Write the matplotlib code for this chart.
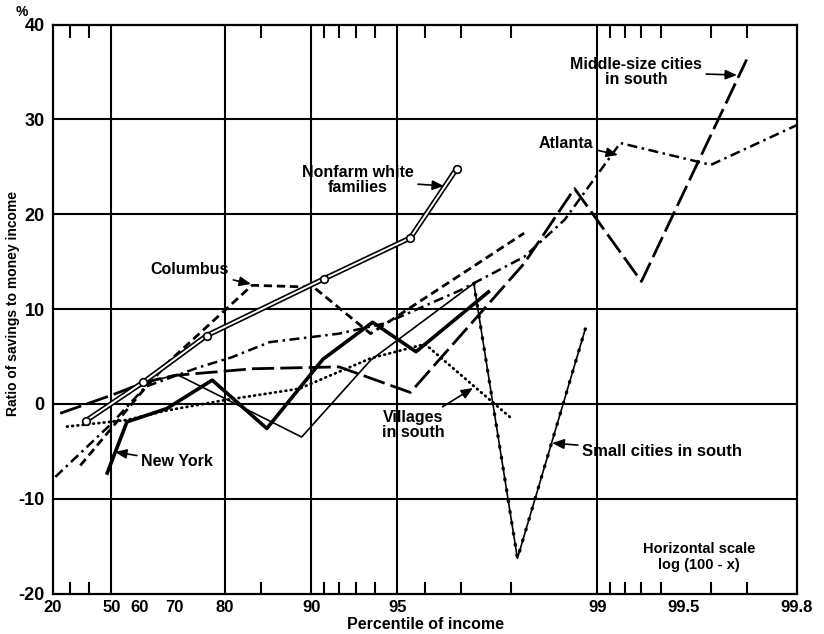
import numpy as np
import matplotlib
matplotlib.use("Agg")
import matplotlib.pyplot as plt

plt.rcParams['font.family'] = ['Liberation Sans', 'DejaVu Sans']

# ---------------- data (percentile of income, savings ratio %) ----------------
nonfarm_x = [38.5, 61.4, 76.8, 91.0, 95.5, 96.9]
nonfarm_y = [-1.8, 2.3, 7.2, 13.2, 17.5, 24.8]

columbus_x = [35.8, 61.0, 68.9, 83.9, 90.2, 93.8, 98.2]
columbus_y = [-6.5, 1.3, 4.6, 12.5, 12.3, 7.4, 18.0]

newyork_x = [48.3, 55.9, 68.0, 77.8, 85.7, 90.9, 93.9, 95.7, 97.6]
newyork_y = [-7.3, -1.9, -0.5, 2.5, -2.6, 4.7, 8.6, 5.5, 11.8]

atlanta_x = [21.5, 50.0, 62.0, 75.0, 81.0, 86.0, 92.0, 94.5, 97.0, 98.2, 98.7, 99.17, 99.6, 99.8]
atlanta_y = [-7.7, -2.1, 1.8, 3.8, 4.9, 6.5, 7.4, 8.5, 12.0, 15.5, 19.4, 27.5, 25.2, 29.4]

middle_x = [24.5, 50.0, 62.0, 70.0, 84.0, 92.0, 95.5, 98.2, 98.8, 99.3, 99.7]
middle_y = [-1.0, 0.9, 2.3, 3.0, 3.7, 3.9, 1.2, 14.8, 22.7, 12.9, 36.3]

small_x = [61.0, 70.5, 89.2, 93.8, 97.3, 98.1, 98.9]
small_y = [2.1, 3.1, -3.5, 4.6, 12.7, -16.3, 7.9]

villages_x = [28.5, 56.0, 68.0, 80.0, 89.0, 93.8, 96.0, 98.0]
villages_y = [-2.4, -1.7, -0.7, 0.4, 1.6, 4.8, 6.3, -1.5]

x_tick_labels = [20, 50, 60, 70, 80, 90, 95, 99, 99.5, 99.8]
x_grid = [50, 80, 90, 95, 99]
x_minor = [30, 40, 60, 70, 85, 91, 92, 93, 94, 96, 97, 98,
           99.1, 99.2, 99.3, 99.4, 99.5, 99.6, 99.7]
y_ticks = [-20, -10, 0, 10, 20, 30, 40]

# ---------------- scale: log(100 - x) ----------------
def fwd(x):
    x = np.asarray(x, dtype=float)
    return -np.log10(np.clip(100.0 - x, 1e-6, None))

def inv(u):
    u = np.asarray(u, dtype=float)
    return 100.0 - 10.0 ** (-u)

W, H = 824, 634
fig = plt.figure(figsize=(W / 100, H / 100), dpi=100)
ax = fig.add_axes([53 / W, 1 - 593.5 / H, (797 - 53) / W, (593.5 - 24.5) / H])
ax.set_xscale('function', functions=(fwd, inv))
ax.set_xlim(20, 99.8)
ax.set_ylim(-20, 40)

# grid
for gx in x_grid:
    ax.axvline(gx, color='black', lw=1.5, zorder=1)
for gy in y_ticks[1:-1]:
    ax.axhline(gy, color='black', lw=1.5, zorder=1)

# ---------------- series ----------------
# Nonfarm white families: double line with open circles
ax.plot(nonfarm_x, nonfarm_y, color='black', lw=3.8, zorder=5, solid_capstyle='butt')
ax.plot(nonfarm_x, nonfarm_y, color='white', lw=1.4, zorder=6, solid_capstyle='butt')
ax.plot(nonfarm_x, nonfarm_y, ls='none', marker='o', ms=5.5, mfc='white',
        mec='black', mew=1.2, zorder=7)

ax.plot(columbus_x, columbus_y, color='black', lw=2.0, ls=(0, (3, 1.7)), zorder=4)
ax.plot(newyork_x, newyork_y, color='black', lw=2.6, zorder=4)
ax.plot(atlanta_x, atlanta_y, color='black', lw=1.8, ls=(0, (4, 1.8, 1, 1.8)), zorder=4)
ax.plot(middle_x, middle_y, color='black', lw=2.0, ls=(0, (8, 2.2)), zorder=4)
ax.plot(small_x, small_y, color='black', lw=1.2, zorder=4)
ax.plot(small_x[4:], small_y[4:], color='black', lw=2.4, ls=(0, (0.3, 3)),
        dash_capstyle='round', zorder=4)
ax.plot(villages_x, villages_y, color='black', lw=2.0, ls=(0, (0.3, 1.6)),
        dash_capstyle='round', zorder=4)

# ---------------- ticks ----------------
ax.set_xticks(x_tick_labels)
ax.set_xticklabels([str(v) for v in x_tick_labels], fontsize=12, fontweight='bold')
ax.set_xticks(x_minor, minor=True)
ax.tick_params(axis='x', which='major', length=0, pad=5)
ax.tick_params(axis='x', which='minor', direction='in', length=9, width=1.5,
               top=True, bottom=True)
ax.set_yticks(y_ticks)
ax.set_yticklabels([str(v) for v in y_ticks], fontsize=13, fontweight='bold')
ax.tick_params(axis='y', which='major', length=0, pad=6)
for s in ax.spines.values():
    s.set_linewidth(1.6)

ax.set_xlabel('Percentile of income', fontsize=11.5, fontweight='bold', labelpad=1)
ax.set_ylabel('Ratio of savings to money income', fontsize=10, fontweight='bold',
              va='center')
ax.yaxis.set_label_coords(-0.054, 0.51)

# ---------------- annotations (figure pixel coords, y measured from top) ----------------
def P(px, py):
    return (px, H - py)

arrow = dict(arrowstyle='-|>,head_length=0.6,head_width=0.25', color='black',
             lw=1.2, shrinkA=1, shrinkB=0)
kw = dict(xycoords='figure pixels', textcoords='figure pixels', fontsize=11.5,
          fontweight='bold', ha='center', va='center', arrowprops=arrow,
          linespacing=0.95, zorder=10)

ax.annotate('Nonfarm white\nfamilies', xy=P(444, 186), xytext=P(358, 180), **kw)
ax.annotate('Columbus', xy=P(251, 284), xytext=P(190, 270), **kw)
ax.annotate('Middle-size cities\nin south', xy=P(737, 75), xytext=P(636, 72), **kw)
ax.annotate('Atlanta', xy=P(618, 155), xytext=P(566, 143), **kw)
ax.annotate('New York', xy=P(115, 452), xytext=P(177, 462), **kw)
ax.annotate('Villages\nin south', xy=P(473, 388), xytext=P(413, 425), **kw)
ax.annotate('Small cities in south', xy=P(552, 443), xytext=P(662, 452),
            **{**kw, 'fontsize': 12})

fig.text(699 / W, 1 - 557 / H, 'Horizontal scale\nlog (100 - x)', fontsize=10.5,
         fontweight='bold', ha='center', va='center', linespacing=1.1)
fig.text(22 / W, 1 - 12 / H, '%', fontsize=10, fontweight='bold', ha='center', va='center')

fig.savefig('out.png', dpi=100)
